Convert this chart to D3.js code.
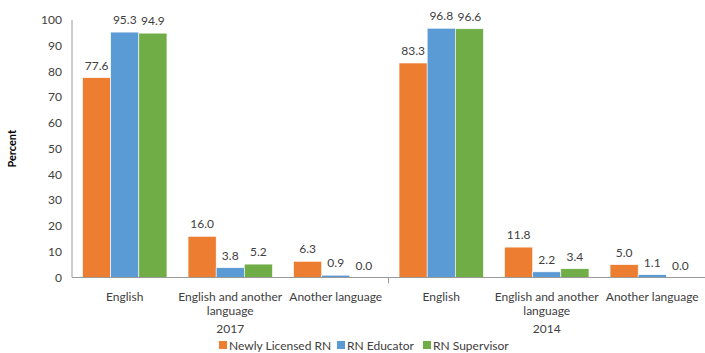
<!DOCTYPE html>
<html>
<head>
<meta charset="utf-8">
<script src="https://cdn.jsdelivr.net/npm/d3@7"></script>
<style>
  html, body { margin: 0; padding: 0; background: #fff; }
  svg text { font-family: Lato, "Open Sans", sans-serif; fill: #404040; }
</style>
</head>
<body>
<svg id="chart" width="705" height="353"></svg>
<script>
// Language spoken, by nursing role and survey year
const years = ["2017", "2014"];
const languages = ["English", "English and another language", "Another language"];
const seriesNames = ["Newly Licensed RN", "RN Educator", "RN Supervisor"];
const seriesColors = ["#ED7D31", "#5B9BD5", "#70AD47"];
const newlyLicensed = [77.6, 16.0, 6.3, 83.3, 11.8, 5.0];
const educator = [95.3, 3.8, 0.9, 96.8, 2.2, 1.1];
const supervisor = [94.9, 5.2, 0.0, 96.6, 3.4, 0.0];
const yTicks = [0, 10, 20, 30, 40, 50, 60, 70, 80, 90, 100];

const seriesValues = [newlyLicensed, educator, supervisor];
const categories = [];
years.forEach(y => languages.forEach(l => categories.push({ year: y, lang: l, key: y + "|" + l })));

const svg = d3.select("#chart");
const plotLeft = 72, plotRight = 705, plotTop = 20, plotBottom = 277.5;

const x = d3.scaleBand().domain(categories.map(c => c.key)).range([plotLeft, plotRight])
  .paddingInner(0.2).paddingOuter(0.1);
const x1 = d3.scaleBand().domain(seriesNames).range([0, x.bandwidth()]);
const y = d3.scaleLinear().domain([0, 100]).range([plotBottom, plotTop]);

// y-axis labels
svg.append("g").selectAll("text").data(yTicks).join("text")
  .attr("x", 62).attr("y", d => y(d)).attr("dy", "0.35em")
  .attr("text-anchor", "end").attr("font-size", 12).text(d => d);

svg.append("text")
  .attr("transform", `translate(16,${(plotTop + plotBottom) / 2}) rotate(-90)`)
  .attr("text-anchor", "middle").attr("font-size", 11).attr("font-weight", "bold")
  .style("fill", "#000").text("Percent");

// bars
const groups = svg.append("g").selectAll("g").data(categories).join("g")
  .attr("transform", d => `translate(${x(d.key)},0)`);

seriesNames.forEach((name, si) => {
  groups.append("rect")
    .attr("x", x1(name))
    .attr("width", x1.bandwidth())
    .attr("y", (d, i) => y(seriesValues[si][i]))
    .attr("height", (d, i) => plotBottom - y(seriesValues[si][i]))
    .attr("fill", seriesColors[si])
    .attr("stroke", "#fff").attr("stroke-width", 0.6);
  groups.append("text")
    .attr("x", x1(name) + x1.bandwidth() / 2)
    .attr("y", (d, i) => y(seriesValues[si][i]) - 8)
    .attr("text-anchor", "middle").attr("font-size", 12)
    .text((d, i) => seriesValues[si][i].toFixed(1));
});

// axis lines
svg.append("line").attr("x1", plotLeft).attr("x2", plotLeft).attr("y1", plotTop).attr("y2", plotBottom)
  .attr("stroke", "#9a9a9a").attr("stroke-width", 1);
svg.append("line").attr("x1", plotLeft).attr("x2", plotRight).attr("y1", plotBottom).attr("y2", plotBottom)
  .attr("stroke", "#9a9a9a").attr("stroke-width", 1);
// year separator tick
const sep = x(categories[3].key) - x.step() * x.paddingInner() / 2;
svg.append("line").attr("x1", sep).attr("x2", sep).attr("y1", plotBottom).attr("y2", plotBottom + 6)
  .attr("stroke", "#9a9a9a").attr("stroke-width", 1);

// category labels (wrapped)
const catLabel = svg.append("g").selectAll("text").data(categories).join("text")
  .attr("text-anchor", "middle").attr("font-size", 12)
  .attr("x", d => x(d.key) + x.bandwidth() / 2).attr("y", 301);
catLabel.each(function(d) {
  const lines = d.lang === "English and another language" ? ["English and another", "language"] : [d.lang];
  d3.select(this).selectAll("tspan").data(lines).join("tspan")
    .attr("x", x(d.key) + x.bandwidth() / 2).attr("dy", (l, i) => i ? 14 : 0).text(l => l);
});

// year labels
years.forEach((yr, yi) => {
  const c0 = categories[yi * 3], c2 = categories[yi * 3 + 2];
  svg.append("text").attr("text-anchor", "middle").attr("font-size", 12)
    .attr("x", (x(c0.key) + x(c2.key) + x.bandwidth()) / 2).attr("y", 333).text(yr);
});

// legend
const legendX = [219, 337, 423];
const legend = svg.append("g").selectAll("g").data(seriesNames).join("g")
  .attr("transform", (d, i) => `translate(${legendX[i]},341)`);
legend.append("rect").attr("width", 8).attr("height", 8).attr("fill", (d, i) => seriesColors[i]);
legend.append("text").attr("x", 10).attr("y", 5).attr("dy", "0.35em").attr("font-size", 12).text(d => d);
</script>
</body>
</html>
